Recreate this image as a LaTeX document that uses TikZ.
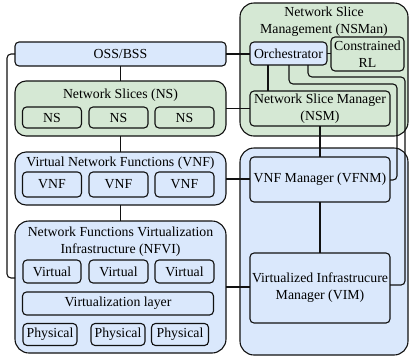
\documentclass[tikz,border=0pt]{standalone}
\usepackage{fontspec}
\setmainfont{Liberation Serif}
\newfontfamily\diagfont{Liberation Serif}
\definecolor{gfill}{HTML}{D5E8D4}
\definecolor{bfill}{HTML}{DAE8FC}
\definecolor{edge}{HTML}{111111}
\begin{document}
\begin{tikzpicture}[x=1pt,y=-1pt,line width=1.1pt,
  every node/.style={font=\diagfont\fontsize{13.8}{17}\selectfont,inner sep=1pt,outer sep=0pt},
  sz/.style 2 args={minimum width=#1,minimum height=#2},
  gbox/.style={draw=edge,fill=gfill,rounded corners=4pt,align=center},
  bbox/.style={draw=edge,fill=bfill,rounded corners=4pt,align=center},
  gcont/.style={draw=edge,fill=gfill,rounded corners=11pt},
  bcont/.style={draw=edge,fill=bfill,rounded corners=11pt},
  title/.style={align=center},
  wire/.style={draw=edge,line width=1.1pt},
  elbow/.style={wire,rounded corners=4pt}]
\useasboundingbox (0,0) rectangle (410,360);

% ---- containers ----
\node[bbox,sz={211pt}{24pt}] (oss) at (120.5,54) {OSS/BSS};
\node[gcont,sz={211pt}{55pt}] (nscont) at (120.5,108.5) {};
\node[bcont,sz={211pt}{53pt}] (vnfcont) at (120.5,178.5) {};
\node[bcont,rounded corners=14pt,sz={211pt}{132pt}] (nfvi) at (120.5,287) {};
\node[gcont,rounded corners=14pt,sz={168pt}{133pt}] (nsman) at (324,69.5) {};
\node[bcont,rounded corners=14pt,sz={168pt}{207pt}] (mano) at (324,251.5) {};

% ---- container titles ----
\node[title] (nstitle) at (120.5,95) {Network Slices (NS)};
\node[title] (vnftitle) at (120.5,163) {Virtual Network Functions (VNF)};
\node[title] (nfvititle) at (120.5,242) {Network Functions Virtualization\\Infrastructure (NFVI)};
\node[title] (nsmantitle) at (324,21.5) {Network Slice\\Management (NSMan)};

% ---- management boxes ----
\node[bbox,sz={77pt}{23pt}] (orch) at (288.5,53.5) {Orchestrator};
\node[gbox,sz={73pt}{34pt}] (crl) at (367.5,54) {Constrained\\RL};
\node[gbox,sz={140pt}{35pt}] (nsm) at (320,108.5) {Network Slice Manager\\(NSM)};
\node[bbox,sz={140pt}{45pt}] (vfnm) at (320,179.5) {VNF Manager (VFNM)};
\node[bbox,sz={140pt}{70pt}] (vim) at (320,288) {Virtualized Infrastrucure\\Manager (VIM)};

% ---- connectors ----
\coordinate (brtop) at (7,54);
\coordinate (brbot) at (7,278);
\draw[elbow] (oss.west) -- (brtop) -- (brbot) -- (brbot -| nfvi.west);
\draw[wire] (oss.south) -- (nscont.north);
\draw[wire] (nscont.south) -- (vnfcont.north);
\draw[wire] (vnfcont.south) -- (nfvi.north);
\draw[wire] (oss.east) -- (oss.east -| orch.west);
\draw[wire] (orch.east) -- (orch.east -| crl.west);
\draw[wire] (nscont.east) -- (nscont.east -| nsm.west);
\coordinate (o2n) at (268,53.5);
\draw[wire] (o2n |- orch.south) -- (o2n |- nsm.north);
\draw[wire] (nsm.south) -- (vfnm.north);
\draw[wire] (vfnm.south) -- (vim.north);
\draw[wire] (vnfcont.east |- 0,179) -- (vfnm.west |- 0,179);
\draw[wire] (nfvi.east |- 0,287) -- (vim.west |- 0,287);
\coordinate (aa) at (289,84);
\coordinate (ab) at (397,84);
\coordinate (ac) at (397,180);
\draw[elbow] (aa |- orch.south) -- (aa) -- (ab) -- (ac) -- (vfnm.east |- ac);
\coordinate (ba) at (308,77);
\coordinate (bb) at (405,77);
\coordinate (bc) at (405,285);
\draw[elbow] (ba |- orch.south) -- (ba) -- (bb) -- (bc) -- (vim.east |- bc);

% ---- network slices ----
\node[gbox,sz={59pt}{21pt}] (ns1) at (52,117.5) {NS};
\node[gbox,sz={59pt}{21pt}] (ns2) at (118.5,117.5) {NS};
\node[gbox,sz={59pt}{21pt}] (ns3) at (184.5,117.5) {NS};

% ---- virtual network functions ----
\node[bbox,sz={59pt}{25pt}] (vnf1) at (52,184.5) {VNF};
\node[bbox,sz={59pt}{25pt}] (vnf2) at (118.5,184.5) {VNF};
\node[bbox,sz={59pt}{25pt}] (vnf3) at (184.5,184.5) {VNF};

% ---- NFVI layers ----
\node[bbox,sz={58pt}{23pt}] (v1) at (52,271.5) {Virtual};
\node[bbox,sz={59pt}{23pt}] (v2) at (118.5,271.5) {Virtual};
\node[bbox,sz={59pt}{23pt}] (v3) at (184.5,271.5) {Virtual};
\node[bbox,sz={191pt}{23pt}] (vlayer) at (118,303.5) {Virtualization layer};
\node[bbox,sz={54pt}{22pt}] (p1) at (50,334.5) {Physical};
\node[bbox,sz={54pt}{22pt}] (p2) at (118,334.5) {Physical};
\node[bbox,sz={57pt}{22pt}] (p3) at (180,334.5) {Physical};
\end{tikzpicture}
\end{document}
